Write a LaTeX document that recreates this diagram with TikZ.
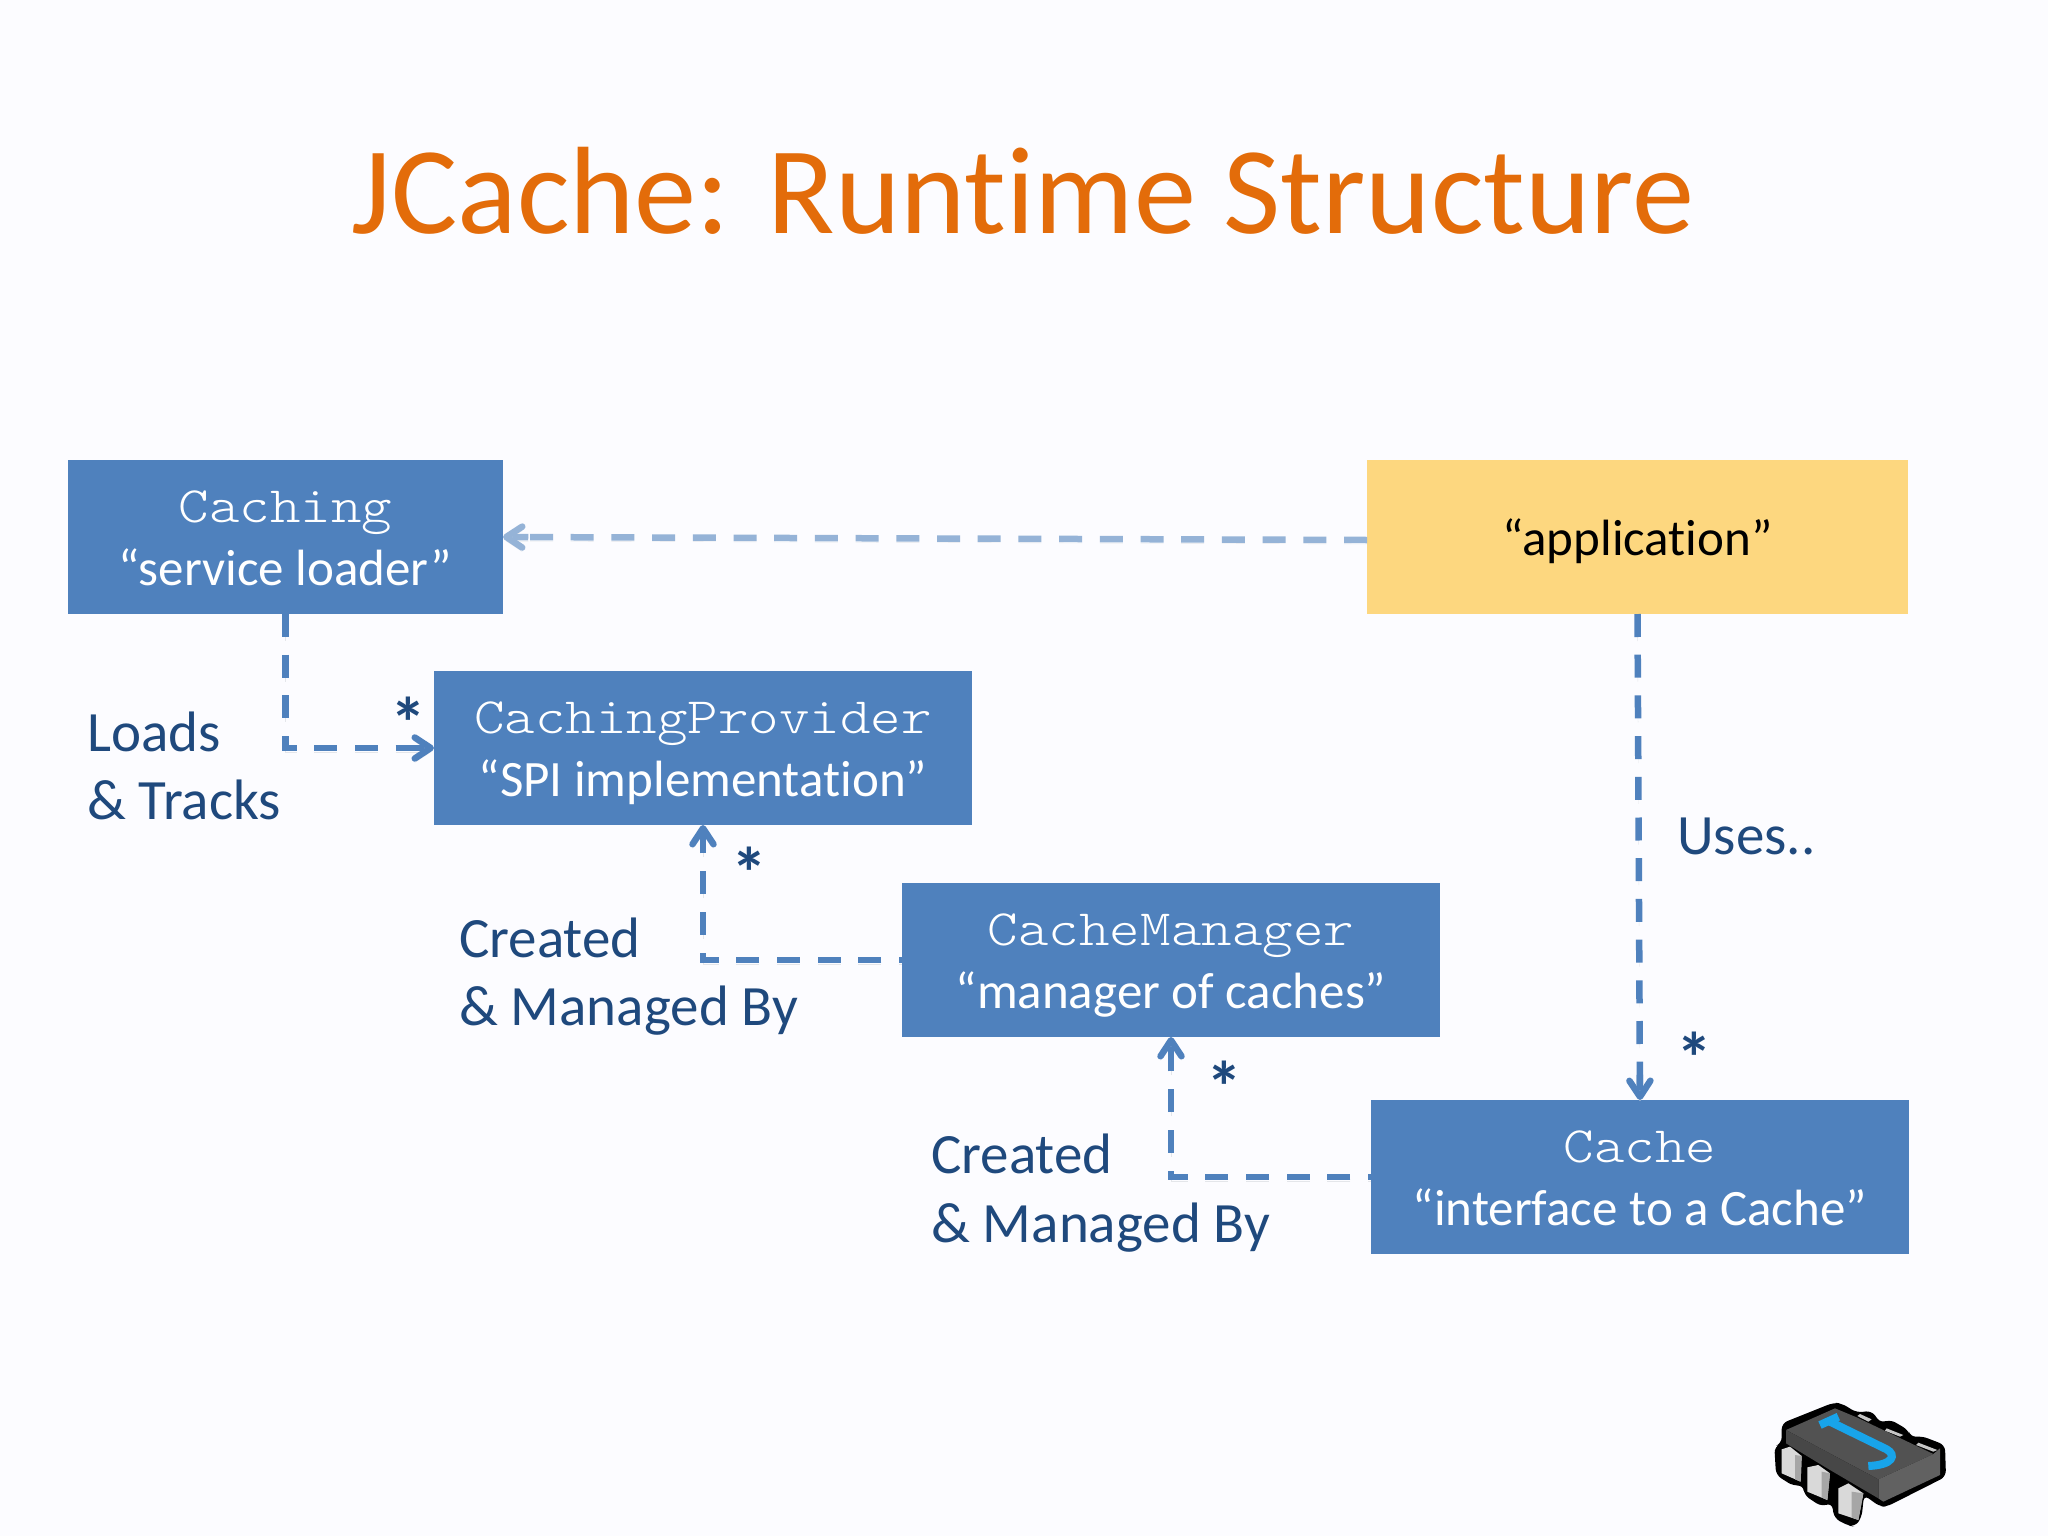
\documentclass[tikz,border=0pt]{standalone}
\usepackage{fontspec}
\setmainfont[Ligatures={NoCommon}]{Carlito}
\newfontfamily\courfont[FakeStretch=1.14]{Latin Modern Mono Light}
\usetikzlibrary{arrows.meta}
\definecolor{boxblue}{HTML}{4F81BD}
\definecolor{boxyellow}{HTML}{FDD77F}
\definecolor{navy}{HTML}{1F497D}
\definecolor{titleorange}{HTML}{E36C0A}
\definecolor{paleline}{HTML}{95B3D7}
\definecolor{shadowgray}{HTML}{E4E6EA}
\definecolor{chipblue}{HTML}{18A4EA}
\lineskiplimit=-200pt
\newcommand{\boxlines}[2]{\rule{0pt}{62pt}{\courfont\fontsize{51pt}{63pt}\selectfont #1}\\\rule[-29pt]{0pt}{1pt}#2}
\tikzset{
  x=1pt,y=-1pt,
  textbox/.style={inner sep=0pt,outer sep=0pt,text=white,align=center,
    font=\fontsize{51pt}{63pt}\selectfont},
  blueb/.style={textbox,fill=boxblue,minimum height=154pt},
  label/.style={inner sep=0pt,anchor=base west,text=navy,font=\fontsize{57pt}{68pt}\selectfont},
  starl/.style={inner sep=0pt,anchor=base,text=navy,font=\fontsize{72pt}{80pt}\bfseries\selectfont},
  conn/.style 2 args={line width=6.5pt,draw=#1,dash pattern=on 23pt off 17.7pt,dash phase=#2,
    -{Rectangle[length=22pt,width=6.5pt,sep=-16pt] Straight Barb[length=16pt,width=21pt,line width=6.5pt,round]},
    preaction={draw=shadowgray,dash pattern=on 23pt off 17.7pt,dash phase=#2,transform canvas={yshift=-4pt}}}
}
\begin{document}
\begin{tikzpicture}
\useasboundingbox (0,0) rectangle (2048,1536);
\fill[white!99!blue] (0,0) rectangle (2048,1536);
\node[inner sep=0pt,anchor=base,text=titleorange,font=\fontsize{124.3pt}{150pt}\selectfont] (title) at (1023,233) {JCache: Runtime Structure};
\node[blueb,minimum width=435pt] (caching) at (285.5,537) {\boxlines{Caching}{“service loader”}};
\node[textbox,fill=boxyellow,text=black,minimum width=541pt,minimum height=154pt] (app) at (1637.5,537) {\rule[-59pt]{0pt}{154pt}“application”};
\node[blueb,minimum width=538pt] (provider) at (703,748) {\boxlines{CachingProvider}{“SPI implementation”}};
\node[blueb,minimum width=538pt] (manager) at (1171,960) {\boxlines{CacheManager}{“manager of caches”}};
\node[blueb,minimum width=538pt] (cache) at (1640,1177) {\boxlines{Cache}{“interface to a Cache”}};
\draw[conn={paleline}{0pt}] ([yshift=-3pt]app.west) -- (caching.east);
\draw[conn={boxblue}{0pt}] (caching.south) |- (provider.west);
\draw[conn={boxblue}{20pt}] (manager.west) -| (provider.south);
\draw[conn={boxblue}{20pt}] (cache.west) -| (manager.south);
\draw[conn={boxblue}{0pt}] (app.south) -- (cache.north);
\node[label] (loads) at (87,751) {Loads};
\node[label] (tracks) at (87,819) {\& Tracks};
\node[label] (created1) at (459,957) {Created};
\node[label] (managed1) at (459,1025) {\& Managed By};
\node[label] (created2) at (931,1173) {Created};
\node[label] (managed2) at (931,1242) {\& Managed By};
\node[label] (uses) at (1677,854) {Uses..};
\node[starl] (s1) at (408,748) {*};
\node[starl] (s2) at (749,898) {*};
\node[starl] (s3) at (1224,1112) {*};
\node[starl] (s4) at (1694,1083) {*};
\begin{scope}[shift={(1740,1380)},x=.3333pt,y=-.3333pt]
  \fill[black,rounded corners=6pt] (125,130)--(280,68)--(305,70)--(350,98)--(395,92)--(422,130)--(450,118)--(505,150)--(512,172)--(545,168)--(615,195)--(618,290)--(440,380)--(420,380)--(372,345)--(365,412)--(345,440)--(325,437)--(283,415)--(275,368)--(245,380)--(192,345)--(190,315)--(160,318)--(108,285)--(103,200)--(125,190)--cycle;
  \fill[black!68] (138,150)--(285,85)--(350,112)--(580,222)--(415,298)--cycle;
  \fill[black!62] (415,298)--(580,222)--(600,205)--(600,285)--(430,365)--(415,355)--cycle;
  \fill[black!72] (138,150)--(415,298)--(415,355)--(270,270)--(138,190)--cycle;
  \fill[gray!45] (360,102)--(395,118)--(385,125)--(352,108)--cycle;
  \fill[gray!45] (440,145)--(490,165)--(480,170)--(435,152)--cycle;
  \fill[gray!45] (535,188)--(592,210)--(580,215)--(528,195)--cycle;
  \fill[black!15] (125,208)--(150,200)--(185,228)--(182,305)--(125,280)--cycle;
  \fill[black!35] (165,225)--(185,228)--(182,305)--(165,298)--cycle;
  \fill[black!15] (202,262)--(235,255)--(270,280)--(262,360)--(202,335)--cycle;
  \fill[black!35] (245,275)--(270,280)--(262,360)--(245,352)--cycle;
  \fill[black!15] (295,325)--(325,310)--(370,340)--(355,420)--(295,400)--cycle;
  \fill[black!35] (335,335)--(370,340)--(355,420)--(335,412)--cycle;
  \draw[line width=8pt,draw=chipblue] (240,135)--(295,110);
  \draw[line width=8pt,draw=chipblue] (270,125)--(440,208) .. controls (470,225) and (460,255) .. (385,258);
\end{scope}
\end{tikzpicture}
\end{document}
